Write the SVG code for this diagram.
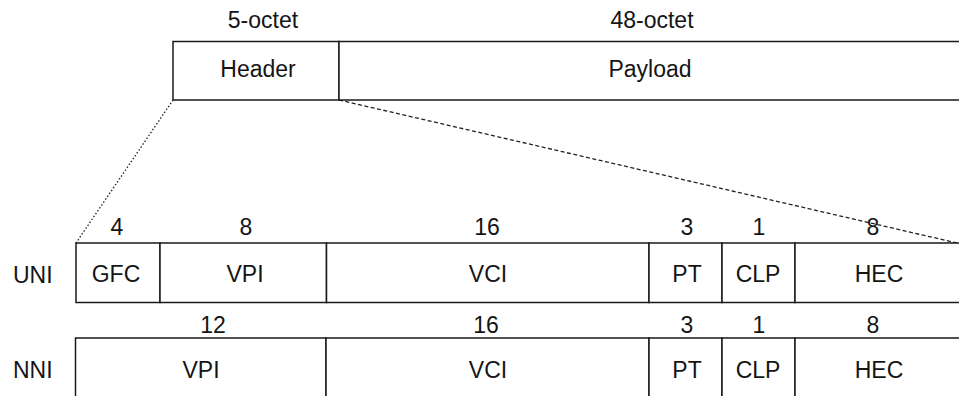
<svg xmlns="http://www.w3.org/2000/svg" width="959" height="396" viewBox="0 0 959 396">
<style>
.box{fill:#fff;stroke:#1a1a1a;stroke-width:1.5}
.t{font-family:"Liberation Sans",Arial,sans-serif;font-size:23px;fill:#151515;text-anchor:middle}
.l{font-family:"Liberation Sans",Arial,sans-serif;font-size:23px;fill:#151515;text-anchor:start}
.dot{fill:none;stroke:#222;stroke-width:1.3;stroke-dasharray:1.5 2}
.dash{fill:none;stroke:#222;stroke-width:1.3;stroke-dasharray:4 2.5}
</style>
<rect width="959" height="396" fill="#fff"/>
<g id="connectors">
<line class="dot" x1="173" y1="100" x2="76" y2="243"/>
<line class="dash" x1="339" y1="100" x2="957" y2="243"/>
</g>
<g id="header">
<rect class="box" x="173" y="41.5" width="166" height="58.5"/>
<text class="t" x="263" y="28">5-octet</text>
<text class="t" x="258" y="77">Header</text>
</g>
<g id="payload">
<rect class="box" x="339" y="41.5" width="640" height="58.5"/>
<text class="t" x="652" y="28">48-octet</text>
<text class="t" x="650" y="77">Payload</text>
</g>
<g id="uni-label"><text class="l" x="13" y="283">UNI</text></g>
<g id="uni-gfc">
<rect class="box" x="76" y="243" width="84" height="59.5"/>
<text class="t" x="117" y="235">4</text>
<text class="t" x="116" y="282">GFC</text>
</g>
<g id="uni-vpi">
<rect class="box" x="160" y="243" width="166.5" height="59.5"/>
<text class="t" x="246" y="235">8</text>
<text class="t" x="245" y="282">VPI</text>
</g>
<g id="uni-vci">
<rect class="box" x="326.5" y="243" width="322.5" height="59.5"/>
<text class="t" x="487" y="235">16</text>
<text class="t" x="488" y="282">VCI</text>
</g>
<g id="uni-pt">
<rect class="box" x="649" y="243" width="73" height="59.5"/>
<text class="t" x="687" y="235">3</text>
<text class="t" x="687" y="282">PT</text>
</g>
<g id="uni-clp">
<rect class="box" x="722" y="243" width="73" height="59.5"/>
<text class="t" x="759" y="235">1</text>
<text class="t" x="758" y="282">CLP</text>
</g>
<g id="uni-hec">
<rect class="box" x="795" y="243" width="190" height="59.5"/>
<text class="t" x="873" y="235">8</text>
<text class="t" x="879" y="282">HEC</text>
</g>
<g id="nni-label"><text class="l" x="13" y="378">NNI</text></g>
<g id="nni-vpi">
<rect class="box" x="75.5" y="338" width="250.5" height="80"/>
<text class="t" x="213" y="333">12</text>
<text class="t" x="201" y="378">VPI</text>
</g>
<g id="nni-vci">
<rect class="box" x="326" y="338" width="323" height="80"/>
<text class="t" x="486" y="333">16</text>
<text class="t" x="488" y="378">VCI</text>
</g>
<g id="nni-pt">
<rect class="box" x="649" y="338" width="73" height="80"/>
<text class="t" x="687" y="333">3</text>
<text class="t" x="687" y="378">PT</text>
</g>
<g id="nni-clp">
<rect class="box" x="722" y="338" width="73" height="80"/>
<text class="t" x="759" y="333">1</text>
<text class="t" x="758" y="378">CLP</text>
</g>
<g id="nni-hec">
<rect class="box" x="795" y="338" width="190" height="80"/>
<text class="t" x="873" y="333">8</text>
<text class="t" x="879" y="378">HEC</text>
</g>
</svg>
